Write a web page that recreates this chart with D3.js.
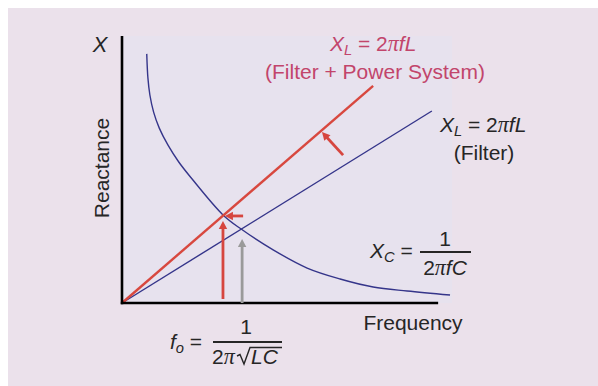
<!DOCTYPE html>
<html>
<head>
<meta charset="utf-8">
<script src="https://cdn.jsdelivr.net/npm/d3@7"></script>
<style>
  html, body { margin: 0; padding: 0; background: #ffffff; }
  svg { display: block; }
  text { font-family: "Liberation Sans", Arial, Helvetica, sans-serif; }
</style>
</head>
<body>
<svg id="chart" width="598" height="386"></svg>
<script>
// Reactance curves (arbitrary units): frequency on x, reactance on y
const capFreq = [0.75, 0.785, 0.845, 0.958, 1.13, 1.39, 1.72, 2.10, 3.06, 3.61, 4.58, 5.61, 6.61, 7.61, 8.64, 9.94];
const capReact = [9.33, 8.43, 7.79, 7.15, 6.55, 5.92, 5.28, 4.68, 3.30, 2.77, 1.99, 1.31, 0.90, 0.60, 0.45, 0.30];

// Inductive reactance lines, each from the origin to its end point
const filterLineFreq = [0, 9.39];
const filterLineReact = [0, 7.19];
const systemLineFreq = [0, 7.61];
const systemLineReact = [0, 8.13];

// Shift arrows: start (f, X), end (f, X), colour kind
const arrowStartF = [3.06, 3.64, 3.67, 6.70];
const arrowStartX = [0.15, 0.00, 3.26, 5.54];
const arrowEndF = [3.06, 3.64, 3.12, 6.06];
const arrowEndX = [3.07, 2.40, 3.26, 6.40];
const arrowKind = ["red", "gray", "red", "red"];

const svg = d3.select("#chart");
const W = 598, H = 386;

const x = d3.scaleLinear().domain([0, 10]).range([122, 452]);
const y = d3.scaleLinear().domain([0, 10]).range([303, 36]);

// backgrounds
svg.append("rect").attr("x", 0).attr("y", 0).attr("width", W).attr("height", H).attr("fill", "#ffffff");
svg.append("rect").attr("x", 8).attr("y", 8).attr("width", W - 8).attr("height", H - 8).attr("fill", "#ebe1eb");
svg.append("rect").attr("x", x(0)).attr("y", y(10)).attr("width", x(10) - x(0)).attr("height", y(0) - y(10)).attr("fill", "#e7e2ee");

const navy = "#35358a";
const red = "#d8483f";
const redText = "#c2456b";
const ink = "#262626";

// capacitive reactance curve
const capData = capFreq.map((f, i) => [f, capReact[i]]);
svg.append("path")
  .datum(capData)
  .attr("fill", "none")
  .attr("stroke", navy)
  .attr("stroke-width", 1.4)
  .attr("d", d3.line().x(d => x(d[0])).y(d => y(d[1])).curve(d3.curveCatmullRom.alpha(0.5)));

// inductive lines
function drawLine(fs, xs, color, width) {
  svg.append("path")
    .datum(fs.map((f, i) => [f, xs[i]]))
    .attr("fill", "none")
    .attr("stroke", color)
    .attr("stroke-width", width)
    .attr("d", d3.line().x(d => x(d[0])).y(d => y(d[1])));
}
drawLine(filterLineFreq, filterLineReact, navy, 1.4);
drawLine(systemLineFreq, systemLineReact, red, 2.4);

// axes (plain lines, no ticks)
svg.append("line").attr("x1", x(0)).attr("x2", x(0)).attr("y1", y(10)).attr("y2", y(0) + 1.2)
  .attr("stroke", "#000").attr("stroke-width", 2.6);
svg.append("line").attr("x1", x(0) - 1.2).attr("x2", x(9.58)).attr("y1", y(0)).attr("y2", y(0))
  .attr("stroke", "#000").attr("stroke-width", 2.6);

// arrows
const arrowColor = { red: "#d6463f", gray: "#9a9a9a" };
arrowStartF.forEach((f0, i) => {
  const x0 = x(f0), y0 = y(arrowStartX[i]);
  const x1 = x(arrowEndF[i]), y1 = y(arrowEndX[i]);
  const c = arrowColor[arrowKind[i]];
  const ang = Math.atan2(y1 - y0, x1 - x0);
  const headLen = 8, headHalf = 4.2;
  const bx = x1 - headLen * Math.cos(ang), by = y1 - headLen * Math.sin(ang);
  svg.append("line").attr("x1", x0).attr("y1", y0).attr("x2", bx + Math.cos(ang)).attr("y2", by + Math.sin(ang))
    .attr("stroke", c).attr("stroke-width", 2.8);
  const px = -Math.sin(ang), py = Math.cos(ang);
  svg.append("path")
    .attr("d", `M${x1},${y1}L${bx + px * headHalf},${by + py * headHalf}L${bx - px * headHalf},${by - py * headHalf}Z`)
    .attr("fill", c);
});

// ---- text ----
const piFont = "'Liberation Serif', 'Times New Roman', serif";
const fs = 21;

// writes a run of pieces (italic, pi, subscript) into one text element
function mathText(parent, px, py, parts, color, size, anchor) {
  const t = parent.append("text").attr("x", px).attr("y", py).attr("fill", color)
    .attr("font-size", size).attr("text-anchor", anchor || "start");
  parts.forEach(p => {
    const s = t.append("tspan").text(p.t);
    if (p.i) s.attr("font-style", "italic");
    if (p.pi) s.attr("font-family", piFont).attr("font-style", "italic").attr("font-size", size * 1.05);
    if (p.sub) s.attr("font-size", size * 0.7).attr("dy", size * 0.2);
    if (p.up) s.attr("dy", -size * 0.2);
  });
  return t;
}

// axis titles
svg.append("text").attr("x", 100).attr("y", 52).attr("text-anchor", "middle")
  .attr("font-size", 22).attr("font-style", "italic").attr("fill", ink).text("X");
svg.append("text").attr("transform", "translate(109,168) rotate(-90)").attr("text-anchor", "middle")
  .attr("font-size", fs).attr("fill", ink).text("Reactance");
svg.append("text").attr("x", 413).attr("y", 330).attr("text-anchor", "middle")
  .attr("font-size", fs).attr("fill", ink).text("Frequency");

// filter + power system inductive label
mathText(svg, 330, 51, [
  { t: "X", i: true }, { t: "L", i: true, sub: true }, { t: " = 2", up: true }, { t: "π", pi: true }, { t: "fL", i: true }
], redText, fs);
svg.append("text").attr("x", 375).attr("y", 79).attr("text-anchor", "middle")
  .attr("font-size", fs).attr("fill", redText).text("(Filter + Power System)");

// filter inductive label
mathText(svg, 440, 132, [
  { t: "X", i: true }, { t: "L", i: true, sub: true }, { t: " = 2", up: true }, { t: "π", pi: true }, { t: "fL", i: true }
], ink, fs);
svg.append("text").attr("x", 484).attr("y", 160).attr("text-anchor", "middle")
  .attr("font-size", fs).attr("fill", ink).text("(Filter)");

// capacitive label
mathText(svg, 370, 258, [
  { t: "X", i: true }, { t: "C", i: true, sub: true }, { t: " =", up: true }
], ink, fs);
svg.append("text").attr("x", 445).attr("y", 246).attr("text-anchor", "middle")
  .attr("font-size", fs).attr("fill", ink).text("1");
svg.append("line").attr("x1", 420).attr("x2", 471).attr("y1", 252).attr("y2", 252)
  .attr("stroke", ink).attr("stroke-width", 1.8);
mathText(svg, 445, 275, [
  { t: "2" }, { t: "π", pi: true }, { t: "fC", i: true }
], ink, fs, "middle");

// resonant frequency label
mathText(svg, 170, 349, [
  { t: "f", i: true }, { t: "o", i: true, sub: true }, { t: " =", up: true }
], ink, fs);
svg.append("text").attr("x", 246).attr("y", 334).attr("text-anchor", "middle")
  .attr("font-size", fs).attr("fill", ink).text("1");
svg.append("line").attr("x1", 213).attr("x2", 282).attr("y1", 342).attr("y2", 342)
  .attr("stroke", ink).attr("stroke-width", 1.8);
mathText(svg, 212, 364, [
  { t: "2" }, { t: "π", pi: true }
], ink, fs);
// radical sign with overbar
svg.append("path")
  .attr("d", "M237,356 L240,354.5 L244,364 L250,347.5 L282,347.5")
  .attr("fill", "none").attr("stroke", ink).attr("stroke-width", 1.4);
svg.append("text").attr("x", 251).attr("y", 364).attr("font-size", fs)
  .attr("font-style", "italic").attr("fill", ink).text("LC");
</script>
</body>
</html>
